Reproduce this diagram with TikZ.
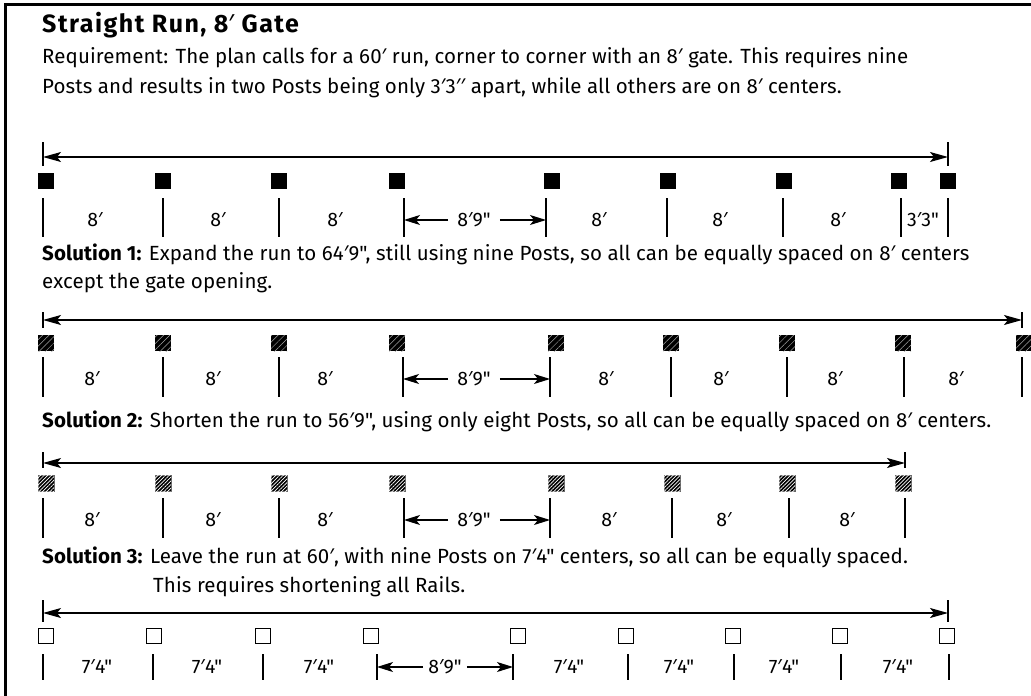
\documentclass[tikz,border=0pt]{standalone}
\usepackage{fontspec}
\newfontfamily\plansans{Fira Sans}
\newfontfamily\primefont{Noto Sans}
\newcommand{\ftmark}{{\primefont ′}}
\usetikzlibrary{arrows.meta,patterns.meta}

\tikzset{
  post/.style={rectangle, minimum size=16pt, inner sep=0pt},
  postsolid/.style={post, fill=black},
  postlight/.style={post, fill=black,
    postaction={pattern={Lines[angle=45,distance=4.5pt,line width=0.5pt]}, pattern color=black!35}},
  postdark/.style={post, fill=black, draw=black!60,
    postaction={pattern={Lines[angle=45,distance=2.6pt,line width=0.7pt]}, pattern color=white}},
  postopen/.style={post, draw=black, line width=1.6pt, fill=white, minimum size=15pt},
  ruletick/.style={line width=1.8pt},
  dimline/.style={line width=1.2pt,
    {Stealth[length=18pt,width=10pt,inset=4pt]}-{Stealth[length=18pt,width=10pt,inset=4pt]}},
  gatearrow/.style={line width=1.2pt, -{Stealth[length=16pt,width=10pt,inset=4pt]}},
  spanlabel/.style={inner sep=0pt, font=\plansans\fontsize{19.5}{22}\selectfont},
  gatelabel/.style={spanlabel, inner xsep=9pt},
  txt/.style={anchor=base west, inner sep=0pt,
    font=\plansans\fontsize{20.5}{24}\selectfont\addfontfeatures{LetterSpace=0.5}},
}

\begin{document}
\begin{tikzpicture}[x=1pt, y=-1pt]
  \useasboundingbox (0,0) rectangle (1031,696);
  % frame
  \draw[line width=3pt] (5,700) -- (5,4) -- (1035,4);

  % heading
  \node[anchor=base west, inner sep=0pt,
    font=\plansans\bfseries\fontsize{25}{28}\selectfont\addfontfeatures{LetterSpace=6}] (title) at (42,32) {Straight Run, 8\ftmark{} Gate};
  \node[txt] (req1) at (42,63) {Requirement: The plan calls for a 60\ftmark{} run, corner to corner with an 8\ftmark{} gate. This requires nine};
  \node[txt] (req2) at (42,93) {Posts and results in two Posts being only 3\ftmark3\ftmark\ftmark{} apart, while all others are on 8\ftmark{} centers.};

  % requirement: 60' run, nine posts
  \coordinate (A0) at (43,157);
  \coordinate (A1) at (948,157);
  \draw[ruletick] (43,142) -- (43,166);
  \draw[ruletick] (948,142) -- (948,166);
  \draw[dimline] (A0) -- (A1);
  \foreach \x [count=\i] in {46,163,279,397,552,668,784,899,948}
    \node[postsolid] (a\i) at (\x,181) {};
  \foreach \x in {43,163,279,404,546,667,783,901,948}
    \draw[ruletick] (\x,198) -- (\x,237);
  \foreach \x [count=\i] in {95,218,335,599,720,838}
    \node[spanlabel] (al\i) at (\x,220) {8\ftmark};
  \node[spanlabel] (al7) at (923,220) {3\ftmark3"};
  \coordinate (ag0) at (404,220);
  \coordinate (ag1) at (546,220);
  \node[gatelabel] (ag) at (474,220) {8\ftmark9"};
  \draw[gatearrow] (ag.west) -- (ag0);
  \draw[gatearrow] (ag.east) -- (ag1);

  % solution 1
  \node[txt] (sol1) at (42,260) {\textbf{Solution 1:} Expand the run to 64\ftmark9", still using nine Posts, so all can be equally spaced on 8\ftmark{} centers};
  \node[txt] (sol1b) at (42,288) {except the gate opening.};
  \coordinate (B0) at (43,320);
  \coordinate (B1) at (1022,320);
  \draw[ruletick] (43,312) -- (43,328);
  \draw[ruletick] (1022,312) -- (1022,328);
  \draw[dimline] (B0) -- (B1);
  \foreach \x [count=\i] in {46,163,279,397,556,671,787,903,1024}
    \node[postlight] (b\i) at (\x,343) {};
  \foreach \x in {43,163,279,403,550,671,787,904,1022}
    \draw[ruletick] (\x,357) -- (\x,397);
  \foreach \x [count=\i] in {92,213,325,606,721,835,956}
    \node[spanlabel] (bl\i) at (\x,379) {8\ftmark};
  \coordinate (bg0) at (403,379);
  \coordinate (bg1) at (550,379);
  \node[gatelabel] (bg) at (474,379) {8\ftmark9"};
  \draw[gatearrow] (bg.west) -- (bg0);
  \draw[gatearrow] (bg.east) -- (bg1);

  % solution 2
  \node[txt] (sol2) at (42,427) {\textbf{Solution 2:} Shorten the run to 56\ftmark9", using only eight Posts, so all can be equally spaced on 8\ftmark{} centers.};
  \coordinate (C0) at (43,463);
  \coordinate (C1) at (905,463);
  \draw[ruletick] (43,452) -- (43,468);
  \draw[ruletick] (905,452) -- (905,468);
  \draw[dimline] (C0) -- (C1);
  \foreach \x [count=\i] in {46,163,279,397,556,672,787,903}
    \node[postdark] (c\i) at (\x,483) {};
  \foreach \x in {43,163,279,404,550,672,789,905}
    \draw[ruletick] (\x,498) -- (\x,538);
  \foreach \x [count=\i] in {92,213,325,609,724,847}
    \node[spanlabel] (cl\i) at (\x,520) {8\ftmark};
  \coordinate (cg0) at (404,520);
  \coordinate (cg1) at (550,520);
  \node[gatelabel] (cg) at (474,520) {8\ftmark9"};
  \draw[gatearrow] (cg.west) -- (cg0);
  \draw[gatearrow] (cg.east) -- (cg1);

  % solution 3
  \node[txt] (sol3) at (42,563) {\textbf{Solution 3:} Leave the run at 60\ftmark, with nine Posts on 7\ftmark4" centers, so all can be equally spaced.};
  \node[txt] (sol3b) at (153,592) {This requires shortening all Rails.};
  \coordinate (D0) at (43,613);
  \coordinate (D1) at (948,613);
  \draw[ruletick] (43,600) -- (43,622);
  \draw[ruletick] (948,600) -- (948,622);
  \draw[dimline] (D0) -- (D1);
  \foreach \x [count=\i] in {46,154,263,371,518,626,733,840,947}
    \node[postopen] (d\i) at (\x,636) {};
  \foreach \x in {43,153,263,377,513,628,734,841,949}
    \draw[ruletick] (\x,654) -- (\x,680);
  \foreach \x [count=\i] in {97,207,319,569,679,784,898}
    \node[spanlabel] (dl\i) at (\x,667) {7\ftmark4"};
  \coordinate (dg0) at (377,667);
  \coordinate (dg1) at (513,667);
  \node[gatelabel, inner xsep=5pt] (dg) at (445,667) {8\ftmark9"};
  \draw[gatearrow] (dg.west) -- (dg0);
  \draw[gatearrow] (dg.east) -- (dg1);
\end{tikzpicture}
\end{document}
